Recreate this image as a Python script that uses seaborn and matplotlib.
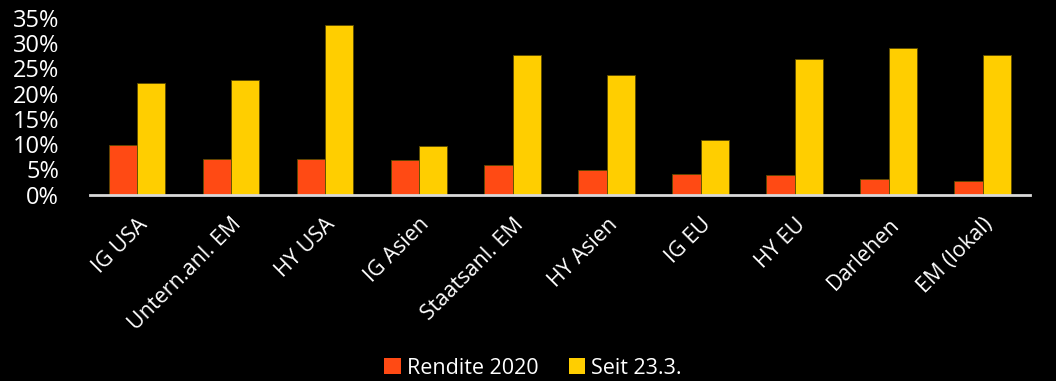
import matplotlib
matplotlib.use("Agg")
import matplotlib.pyplot as plt
import seaborn as sns
import pandas as pd
from matplotlib.ticker import FuncFormatter
from matplotlib.patches import Patch

categories = ["IG USA", "Untern.anl. EM", "HY USA", "IG Asien", "Staatsanl. EM",
              "HY Asien", "IG EU", "HY EU", "Darlehen", "EM (lokal)"]
rendite_2020 = [9.8, 7.0, 7.0, 6.8, 5.8, 4.9, 4.1, 3.9, 3.1, 2.6]
seit_23_3 = [22.1, 22.7, 33.6, 9.6, 27.7, 23.6, 10.9, 26.8, 29.1, 27.6]
series_names = ["Rendite 2020", "Seit 23.3."]
colors = ["#FF4A14", "#FFCE00"]
y_ticks = [0, 5, 10, 15, 20, 25, 30, 35]

df = pd.DataFrame({
    "Kategorie": categories * 2,
    "Wert": rendite_2020 + seit_23_3,
    "Serie": [series_names[0]] * len(categories) + [series_names[1]] * len(categories),
})

sns.set_theme(style="dark")
plt.rcParams["font.family"] = ["Open Sans", "DejaVu Sans"]

fig = plt.figure(figsize=(10.56, 3.81), dpi=100, facecolor="black")
ax = fig.add_axes([0.085, 0.4895, 0.89, 0.4635])
ax.set_facecolor("black")

sns.barplot(data=df, x="Kategorie", y="Wert", hue="Serie", order=categories,
            hue_order=series_names, palette=colors, width=0.6, ax=ax,
            edgecolor="#5a4a00", linewidth=0.6, legend=False, saturation=1)

ax.set_ylim(0, 35)
ax.set_xlim(-0.5, len(categories) - 0.5)
ax.set_yticks(y_ticks)
ax.yaxis.set_major_formatter(FuncFormatter(lambda v, p: f"{int(v)}%"))
ax.tick_params(axis="y", colors="white", labelsize=17, length=0, pad=22)
ax.tick_params(axis="x", colors="white", labelsize=15.5, length=0, pad=14)
for lbl in ax.get_xticklabels():
    lbl.set_rotation(45)
    lbl.set_ha("right")
    lbl.set_rotation_mode("anchor")
ax.set_xlabel("")
ax.set_ylabel("")
ax.grid(False)
for s in ["left", "right", "top"]:
    ax.spines[s].set_visible(False)
ax.spines["bottom"].set_visible(True)
ax.spines["bottom"].set_color("#d9d9d9")
ax.spines["bottom"].set_linewidth(2)

handles = [Patch(facecolor=c, edgecolor="none") for c in colors]
leg = fig.legend(handles, series_names, loc="lower center", bbox_to_anchor=(0.505, -0.045),
                 ncol=2, frameon=False, fontsize=15.5, handlelength=0.75, handleheight=0.75,
                 handletextpad=0.3, columnspacing=1.4)
for t in leg.get_texts():
    t.set_color("white")

fig.savefig("out.png", dpi=100, facecolor="black")
